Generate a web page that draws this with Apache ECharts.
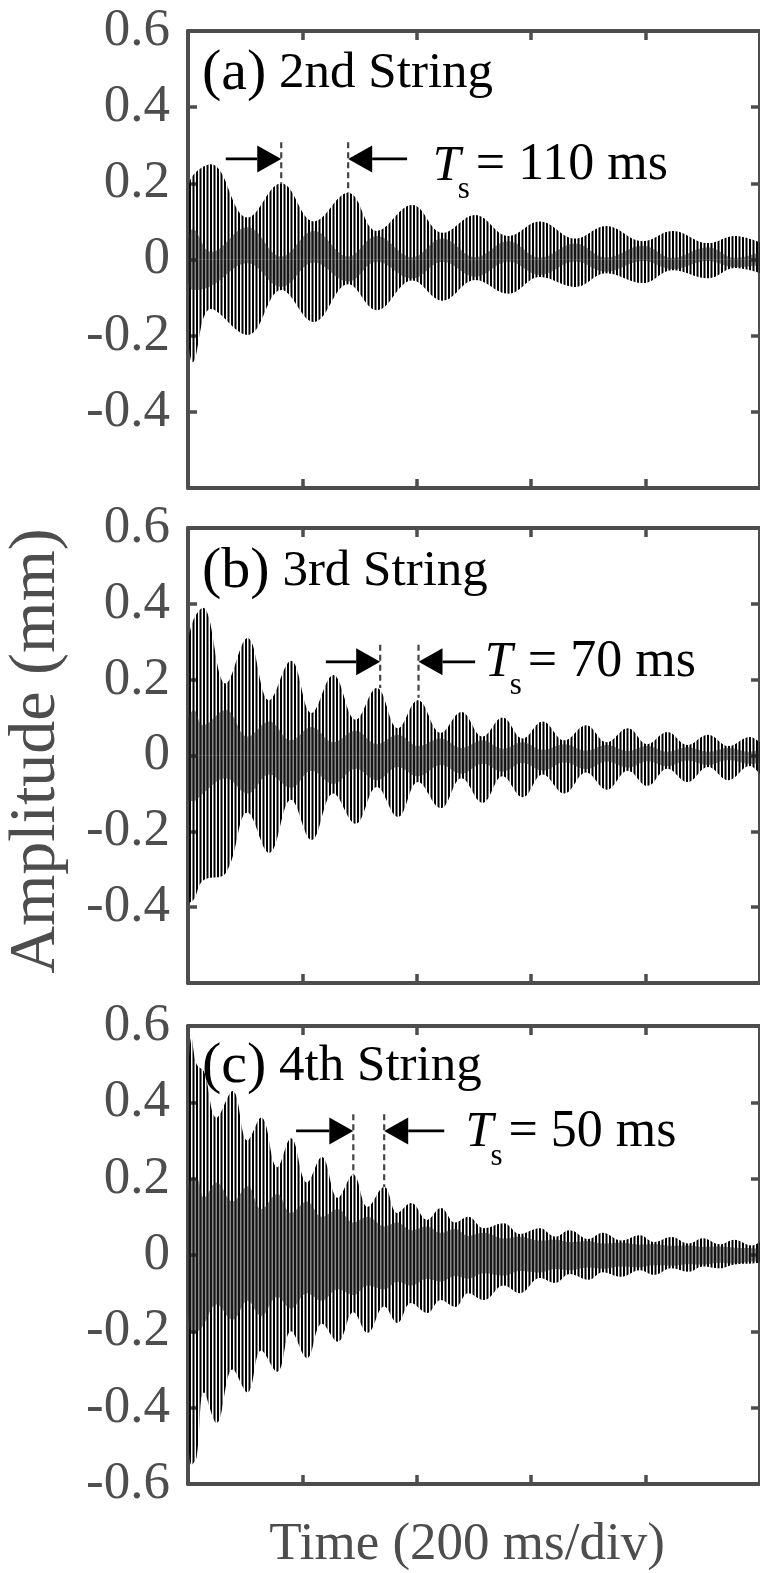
<!DOCTYPE html>
<html>
<head>
<meta charset="utf-8">
<script src="https://cdn.jsdelivr.net/npm/echarts@6/dist/echarts.min.js"></script>
<style>html,body{margin:0;padding:0;background:#fff;}#c{width:760px;height:1573px;}</style>
</head>
<body>
<div id="c"></div>
<script>
// ---------------- data ----------------
// Time axis (ms) and tick values
const xTicks = [0, 200, 400, 600, 800, 1000];
const yTickLabels = ['-0.6', '-0.4', '-0.2', '0', '0.2', '0.4', '0.6'];

// (a) 2nd string: envelope samples at beat crests/troughs (mm)
const tA      = [0, 8, 40, 104, 163, 220, 280, 330, 392, 445, 502, 560, 615, 677, 731, 795, 847, 909, 956, 1000];
const upperA  = [0.18, 0.22, 0.25, 0.11, 0.20, 0.10, 0.175, 0.075, 0.143, 0.07, 0.117, 0.062, 0.10, 0.055, 0.088, 0.048, 0.075, 0.043, 0.062, 0.045];
const lowerA  = [-0.20, -0.27, -0.13, -0.198, -0.08, -0.164, -0.065, -0.133, -0.055, -0.108, -0.054, -0.09, -0.046, -0.072, -0.036, -0.062, -0.028, -0.049, -0.022, -0.035];
const innerUpA  = [0.05, 0.08, 0.02, 0.085, 0.008, 0.075, 0.008, 0.062, 0.006, 0.055, 0.006, 0.048, 0.005, 0.042, 0.005, 0.036, 0.004, 0.032, 0.004, 0.02];
const innerLowA = [-0.06, -0.08, -0.07, -0.01, -0.072, -0.008, -0.058, -0.006, -0.05, -0.006, -0.045, -0.005, -0.04, -0.005, -0.032, -0.004, -0.025, -0.004, -0.02, -0.015];

// (b) 3rd string
const tB      = [0, 10, 26, 66, 104, 142, 180, 216, 254, 293, 330, 367, 402, 442, 478, 515, 550, 585, 620, 658, 696, 732, 769, 803, 838, 873, 909, 945, 982, 1000];
const upperB  = [0.30, 0.36, 0.39, 0.19, 0.31, 0.146, 0.25, 0.112, 0.212, 0.094, 0.178, 0.072, 0.146, 0.06, 0.115, 0.05, 0.10, 0.045, 0.09, 0.04, 0.08, 0.035, 0.072, 0.03, 0.062, 0.028, 0.055, 0.025, 0.049, 0.035];
const lowerB  = [-0.39, -0.38, -0.33, -0.31, -0.15, -0.257, -0.117, -0.223, -0.10, -0.18, -0.083, -0.162, -0.07, -0.139, -0.06, -0.125, -0.055, -0.11, -0.05, -0.10, -0.045, -0.09, -0.04, -0.08, -0.035, -0.07, -0.03, -0.065, -0.028, -0.05];
const innerUpB  = [0.1, 0.12, 0.08, 0.12, 0.05, 0.09, 0.04, 0.075, 0.035, 0.065, 0.03, 0.055, 0.025, 0.045, 0.02, 0.04, 0.018, 0.035, 0.015, 0.03, 0.013, 0.028, 0.012, 0.025, 0.01, 0.022, 0.01, 0.02, 0.01, 0.015];
const innerLowB = [-0.12, -0.12, -0.1, -0.06, -0.1, -0.05, -0.085, -0.04, -0.075, -0.035, -0.065, -0.03, -0.055, -0.025, -0.048, -0.022, -0.043, -0.02, -0.04, -0.018, -0.036, -0.016, -0.032, -0.015, -0.028, -0.013, -0.025, -0.012, -0.022, -0.02];

// (c) 4th string
const tC      = [0, 6, 15, 28, 50, 78, 104, 128, 156, 180, 208, 234, 262, 289, 314, 343, 366, 390, 418, 442, 467, 490, 517, 552, 580, 615, 642, 667, 700, 725, 757, 790, 815, 845, 875, 900, 930, 955, 985, 1000];
const upperC  = [0.45, 0.57, 0.50, 0.48, 0.36, 0.43, 0.30, 0.36, 0.23, 0.306, 0.19, 0.257, 0.15, 0.21, 0.126, 0.178, 0.11, 0.136, 0.092, 0.123, 0.085, 0.10, 0.07, 0.083, 0.055, 0.07, 0.048, 0.065, 0.042, 0.058, 0.038, 0.052, 0.034, 0.047, 0.03, 0.044, 0.028, 0.04, 0.025, 0.035];
const lowerC  = [-0.45, -0.55, -0.53, -0.36, -0.44, -0.30, -0.36, -0.25, -0.306, -0.20, -0.27, -0.18, -0.227, -0.15, -0.204, -0.135, -0.178, -0.126, -0.152, -0.118, -0.136, -0.10, -0.118, -0.08, -0.10, -0.06, -0.073, -0.05, -0.065, -0.045, -0.057, -0.04, -0.052, -0.035, -0.044, -0.03, -0.035, -0.025, -0.022, -0.02];
const innerUpC  = [0.15, 0.2, 0.2, 0.15, 0.19, 0.14, 0.18, 0.12, 0.16, 0.11, 0.14, 0.1, 0.12, 0.085, 0.1, 0.075, 0.085, 0.065, 0.075, 0.058, 0.068, 0.05, 0.058, 0.043, 0.048, 0.038, 0.04, 0.034, 0.036, 0.03, 0.032, 0.027, 0.028, 0.024, 0.025, 0.021, 0.022, 0.019, 0.018, 0.016];
const innerLowC = [-0.15, -0.2, -0.2, -0.18, -0.13, -0.17, -0.12, -0.16, -0.11, -0.14, -0.1, -0.12, -0.09, -0.105, -0.08, -0.09, -0.07, -0.08, -0.062, -0.07, -0.055, -0.062, -0.048, -0.054, -0.042, -0.046, -0.037, -0.04, -0.033, -0.036, -0.03, -0.032, -0.027, -0.028, -0.024, -0.025, -0.02, -0.022, -0.017, -0.016];

// Annotations: arrows [tStart, tTip, value], dashed markers [t, vTop, vBottom], Ts label [t, baselineValue]
const arrowsA = [[66, 163, 0.264], [383, 280, 0.264]];
const dashA   = [[163, 0.308, 0.20], [280, 0.308, 0.175]];
const tsA     = [428, 0.20];
const arrowsB = [[241, 336, 0.247], [502, 403, 0.247]];
const dashB   = [[336, 0.292, 0.178], [403, 0.292, 0.152]];
const tsB     = [519, 0.20];
const arrowsC = [[189, 289, 0.325], [448, 343, 0.325]];
const dashC   = [[289, 0.369, 0.21], [343, 0.369, 0.178]];
const tsC     = [485, 0.275];

const panelNames = ['(a)', '(b)', '(c)'];
const stringNames = ['2nd String', '3rd String', '4th String'];
const tsValues = ['110', '70', '50'];

// ---------------- styling / layout ----------------
const FONT = "'Liberation Serif','Times New Roman',serif";
const AX = '#4d4d4d';
const grids = [
  {left: 188, top: 31, width: 576, height: 457},
  {left: 188, top: 528, width: 576, height: 455},
  {left: 188, top: 1026, width: 576, height: 458}
];

function stripeCanvas() {
  const c = document.createElement('canvas');
  c.width = 7; c.height = 4;
  const g = c.getContext('2d');
  g.fillStyle = '#000';
  g.fillRect(0, 0, 2, 4);
  g.fillRect(3.5, 0, 2, 4);
  return c;
}
const stripePattern = {image: stripeCanvas(), repeat: 'repeat'};
const INNER = 'rgba(40,40,40,0.55)';

const panels = [
  {t: tA, up: upperA, lo: lowerA, iu: innerUpA, il: innerLowA, arrows: arrowsA, dash: dashA, ts: tsA},
  {t: tB, up: upperB, lo: lowerB, iu: innerUpB, il: innerLowB, arrows: arrowsB, dash: dashB, ts: tsB},
  {t: tC, up: upperC, lo: lowerC, iu: innerUpC, il: innerLowC, arrows: arrowsC, dash: dashC, ts: tsC}
];

const zip = (a, b) => a.map((v, i) => [v, b[i]]);

const xAxes = [], yAxes = [], series = [];
panels.forEach((p, i) => {
  ['bottom', 'top'].forEach(pos => xAxes.push({
    type: 'value', gridIndex: i, position: pos, min: xTicks[0], max: xTicks[xTicks.length - 1], interval: 200,
    axisLine: {onZero: false, lineStyle: {color: AX, width: 4}},
    axisTick: {inside: true, length: 9, lineStyle: {color: AX, width: 3.5}},
    axisLabel: {show: false}, splitLine: {show: false}
  }));
  ['left', 'right'].forEach(pos => yAxes.push({
    type: 'value', gridIndex: i, position: pos, min: -0.6, max: 0.6, interval: 0.2,
    axisLine: {onZero: false, lineStyle: {color: AX, width: 4}},
    axisTick: {inside: true, length: 9, lineStyle: {color: AX, width: 3.5}},
    axisLabel: pos === 'left' ? {
      show: true, margin: 18, color: AX, fontSize: 53, fontFamily: FONT,
      formatter: v => {
        const idx = Math.round((v + 0.6) / 0.2);
        if (idx === 0 && i < 2) return '';
        return yTickLabels[idx];
      }
    } : {show: false},
    splitLine: {show: false}
  }));
  const xi = 2 * i, yi = 2 * i;
  const band = (data, color, z) => ({
    type: 'line', xAxisIndex: xi, yAxisIndex: yi, data, smooth: 0.4, symbol: 'none',
    lineStyle: {opacity: 0}, areaStyle: {color, opacity: 1, origin: 0}, z, silent: true
  });
  series.push(band(zip(p.t, p.up), stripePattern, 2));
  series.push(band(zip(p.t, p.lo), stripePattern, 2));
  series.push(band(zip(p.t, p.iu), INNER, 3));
  series.push(band(zip(p.t, p.il), INNER, 3));
  // dashed markers
  series.push({
    type: 'custom', xAxisIndex: xi, yAxisIndex: yi, data: p.dash, z: 5, silent: true,
    renderItem: (params, api) => {
      const a = api.coord([api.value(0), api.value(1)]);
      const b = api.coord([api.value(0), api.value(2)]);
      return {type: 'line', shape: {x1: a[0], y1: a[1], x2: b[0], y2: b[1]},
        style: {stroke: '#444', lineWidth: 2.2, lineDash: [6, 4]}};
    }
  });
  // arrows
  series.push({
    type: 'custom', xAxisIndex: xi, yAxisIndex: yi, data: p.arrows, z: 6, silent: true,
    renderItem: (params, api) => {
      const a = api.coord([api.value(0), api.value(2)]);
      const b = api.coord([api.value(1), api.value(2)]);
      const dir = b[0] > a[0] ? 1 : -1, L = 24, W = 13.5;
      const base = b[0] - dir * L;
      return {type: 'group', children: [
        {type: 'line', shape: {x1: a[0], y1: a[1], x2: base, y2: b[1]}, style: {stroke: '#000', lineWidth: 2.8}},
        {type: 'polygon', shape: {points: [[b[0], b[1]], [base, b[1] - W], [base, b[1] + W]]}, style: {fill: '#000'}}
      ]};
    }
  });
  // Ts label
  series.push({
    type: 'custom', xAxisIndex: xi, yAxisIndex: yi, data: [p.ts], z: 7, silent: true,
    renderItem: (params, api) => {
      const c = api.coord([api.value(0), api.value(1)]);
      const B = c[1];
      return {type: 'group', children: [
        {type: 'text', style: {text: 'T', x: c[0], y: B - 0.3375 * 50, font: 'italic 50px ' + FONT, fill: '#000', verticalAlign: 'middle', align: 'left'}},
        {type: 'text', style: {text: 's', x: c[0] + 25, y: B + 17 - 0.3375 * 31, font: '31px ' + FONT, fill: '#000', verticalAlign: 'middle', align: 'left'}},
        {type: 'text', style: {text: '= ' + tsValues[i] + ' ms', x: c[0] + 43, y: B - 0.3375 * 52, font: '52px ' + FONT, fill: '#000', verticalAlign: 'middle', align: 'left'}}
      ]};
    }
  });
});

const labelBaselines = [92, 590, 1085];
const graphics = panels.map((p, i) => ({
  type: 'text', left: 202, top: labelBaselines[i] - 17.2 - 30, z: 10,
  style: {
    text: '{p|' + panelNames[i] + '}{s| ' + stringNames[i] + '}',
    rich: {
      p: {fontSize: 58, fontFamily: FONT, fill: '#000', lineHeight: 60},
      s: {fontSize: 51, fontFamily: FONT, fill: '#000', lineHeight: 60}
    }
  }
}));
graphics.push({
  type: 'text', x: 37, y: 751, rotation: Math.PI / 2, z: 10,
  style: {text: 'Amplitude (mm)', font: '66px ' + FONT, fill: AX, align: 'center', verticalAlign: 'middle'}
});
graphics.push({
  type: 'text', x: 467, y: 1563 - 0.3375 * 53, z: 10,
  style: {text: 'Time (200 ms/div)', font: '53px ' + FONT, fill: AX, align: 'center', verticalAlign: 'middle'}
});

const chart = echarts.init(document.getElementById('c'), null, {renderer: 'canvas'});
chart.setOption({
  animation: false,
  backgroundColor: '#fff',
  grid: grids,
  xAxis: xAxes,
  yAxis: yAxes,
  series,
  graphic: graphics
});
</script>
</body>
</html>
